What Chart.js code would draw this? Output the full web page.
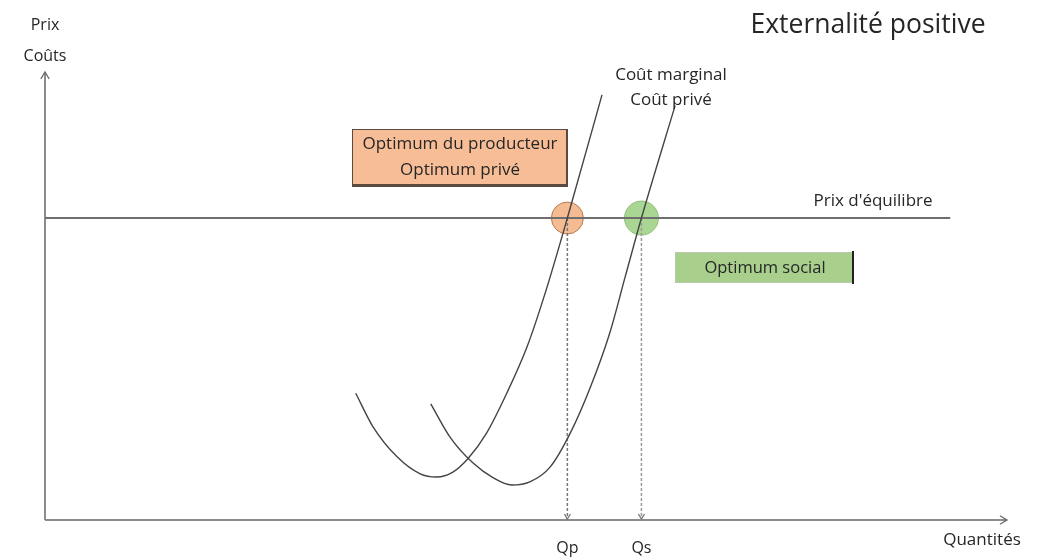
<!DOCTYPE html>
<html>
<head>
<meta charset="utf-8">
<script src="https://cdn.jsdelivr.net/npm/chart.js@4/dist/chart.umd.min.js"></script>
<style>
  html, body { margin:0; padding:0; background:#fff; }
  #box { width:1043px; height:557px; position:relative; }
</style>
</head>
<body>
<div id="box"><canvas id="graphe"></canvas></div>
<script>
// courbe de gauche (coût marginal social)
var cmQ = [32.3, 34.1, 36.6, 39.0, 40.7, 42.4, 44.0, 45.9, 48.0, 50.1, 52.0, 54.3, 57.9]
var cmP = [28.3, 20.8, 14.1, 10.3, 9.6, 10.7, 13.8, 19.4, 28.3, 38.6, 50.7, 67.4, 94.9]
// courbe de droite (coût privé)
var cpQ = [40.1, 42.1, 44.5, 46.6, 48.5, 50.4, 52.5, 54.6, 56.7, 58.7, 60.3, 62.0, 65.5]
var cpP = [25.9, 18.5, 12.7, 9.4, 7.8, 8.5, 11.8, 19.4, 29.7, 41.7, 54.2, 67.4, 92.5]

var prixEq = 67.4
var finPrix = 94.1
var qp = 54.3
var qs = 62.0

var FONT = '"Open Sans", Lato, sans-serif'

function pts(qs_, ps_){
    var out = []
    for(var i = 0; i < qs_.length; i++){
        out.push({x:qs_[i], y:ps_[i]})
    }
    return out
}

function fleche(ctx, x, y, dir, size){
    // petite pointe ouverte
    ctx.beginPath()
    if(dir == 'up'){
        ctx.moveTo(x-size*0.6, y+size); ctx.lineTo(x, y); ctx.lineTo(x+size*0.6, y+size)
    }else if(dir == 'right'){
        ctx.moveTo(x-size, y-size*0.6); ctx.lineTo(x, y); ctx.lineTo(x-size, y+size*0.6)
    }else{
        ctx.moveTo(x-size*0.6, y-size); ctx.lineTo(x, y); ctx.lineTo(x+size*0.6, y-size)
    }
    ctx.stroke()
}

function texte(ctx, s, x, y, size, align){
    ctx.font = size + 'px ' + FONT
    ctx.fillStyle = '#262626'
    ctx.textAlign = align || 'center'
    ctx.textBaseline = 'middle'
    ctx.fillText(s, x, y)
}

var axes = {
    id:'axes',
    beforeDatasetsDraw(chart){
        var ctx = chart.ctx
        var a = chart.chartArea
        ctx.save()
        ctx.strokeStyle = '#8c8c8c'
        ctx.lineWidth = 2
        ctx.beginPath()
        ctx.moveTo(a.left, a.bottom); ctx.lineTo(a.left, a.top)
        ctx.moveTo(a.left, a.bottom); ctx.lineTo(a.right, a.bottom)
        ctx.stroke()
        ctx.lineWidth = 1.3
        ctx.strokeStyle = '#666'
        fleche(ctx, a.left, a.top, 'up', 7)
        fleche(ctx, a.right, a.bottom, 'right', 7)
        ctx.restore()
    },
    afterDatasetsDraw(chart){
        var ctx = chart.ctx
        var a = chart.chartArea
        var sx = chart.scales.x
        var sy = chart.scales.y
        ctx.save()

        // pointes des pointillés
        ctx.strokeStyle = '#777'
        ctx.lineWidth = 1.3
        fleche(ctx, sx.getPixelForValue(qp), a.bottom - 1, 'down', 5)
        fleche(ctx, sx.getPixelForValue(qs), a.bottom - 1, 'down', 5)

        // titres
        texte(ctx, 'Externalité positive', 868, 25, 26.5)
        texte(ctx, 'Prix', a.left, 25, 16)
        texte(ctx, 'Coûts', a.left, 56, 16)
        texte(ctx, 'Quantités', 982, 540, 17)
        texte(ctx, 'Qp', sx.getPixelForValue(qp), 548, 16)
        texte(ctx, 'Qs', sx.getPixelForValue(qs), 548, 16)
        texte(ctx, 'Coût marginal', 671, 75, 17)
        texte(ctx, 'Coût privé', 671, 100, 17)
        texte(ctx, "Prix d'équilibre", 873, sy.getPixelForValue(prixEq) - 17, 17)

        // encadré orange
        ctx.fillStyle = '#f7bd96'
        ctx.fillRect(352, 129, 215, 56)
        ctx.strokeStyle = '#5a4a40'
        ctx.lineWidth = 1
        ctx.strokeRect(352.5, 129.5, 214, 55)
        ctx.lineWidth = 2
        ctx.beginPath(); ctx.moveTo(567, 129); ctx.lineTo(567, 186); ctx.lineTo(352, 186); ctx.stroke()
        texte(ctx, 'Optimum du producteur', 460, 144, 17)
        texte(ctx, 'Optimum privé', 460, 170, 17)

        // encadré vert
        ctx.fillStyle = '#a8d08c'
        ctx.fillRect(675, 252, 178, 31)
        ctx.strokeStyle = '#b9c9ae'
        ctx.lineWidth = 1
        ctx.strokeRect(675.5, 252.5, 177, 30)
        ctx.strokeStyle = '#222'
        ctx.lineWidth = 2
        ctx.beginPath(); ctx.moveTo(853, 251); ctx.lineTo(853, 284); ctx.stroke()
        texte(ctx, 'Optimum social', 765, 268, 16.5)

        ctx.restore()
    }
}

var chart = new Chart(document.getElementById('graphe').getContext('2d'), {
    type:'scatter',
    plugins:[axes],
    data:{
        datasets:[
            {
                label:'Coût marginal',
                data:pts(cmQ, cmP),
                showLine:true,
                cubicInterpolationMode:'monotone',
                borderColor:'#444',
                borderWidth:1.4,
                pointRadius:0
            },
            {
                label:'Coût privé',
                data:pts(cpQ, cpP),
                showLine:true,
                cubicInterpolationMode:'monotone',
                borderColor:'#444',
                borderWidth:1.4,
                pointRadius:0
            },
            {
                label:"Prix d'équilibre",
                data:[{x:0, y:prixEq}, {x:finPrix, y:prixEq}],
                showLine:true,
                borderColor:'#6e6e6e',
                borderWidth:2,
                pointRadius:0
            },
            {
                label:'Qp',
                data:[{x:qp, y:prixEq}, {x:qp, y:0}],
                showLine:true,
                borderColor:'#777',
                borderWidth:1.5,
                borderDash:[3, 2],
                pointRadius:0
            },
            {
                label:'Qs',
                data:[{x:qs, y:prixEq}, {x:qs, y:0}],
                showLine:true,
                borderColor:'#999',
                borderWidth:1.5,
                borderDash:[3, 2],
                pointRadius:0
            },
            {
                label:'Optimum privé',
                data:[{x:qp, y:prixEq}],
                pointRadius:16,
                backgroundColor:'rgba(242,170,120,0.8)',
                borderColor:'#b87a50',
                borderWidth:1,
                order:10
            },
            {
                label:'Optimum social',
                data:[{x:qs, y:prixEq}],
                pointRadius:17,
                backgroundColor:'rgba(140,200,110,0.75)',
                borderColor:'#8fbf78',
                borderWidth:1,
                order:10
            }
        ]
    },
    options:{
        responsive:true,
        maintainAspectRatio:false,
        animation:false,
        layout:{
            padding:{left:45, right:36, top:72, bottom:37}
        },
        plugins:{
            legend:{display:false},
            tooltip:{enabled:false}
        },
        scales:{
            x:{type:'linear', min:0, max:100, display:false},
            y:{type:'linear', min:0, max:100, display:false}
        }
    }
})
</script>
</body>
</html>
